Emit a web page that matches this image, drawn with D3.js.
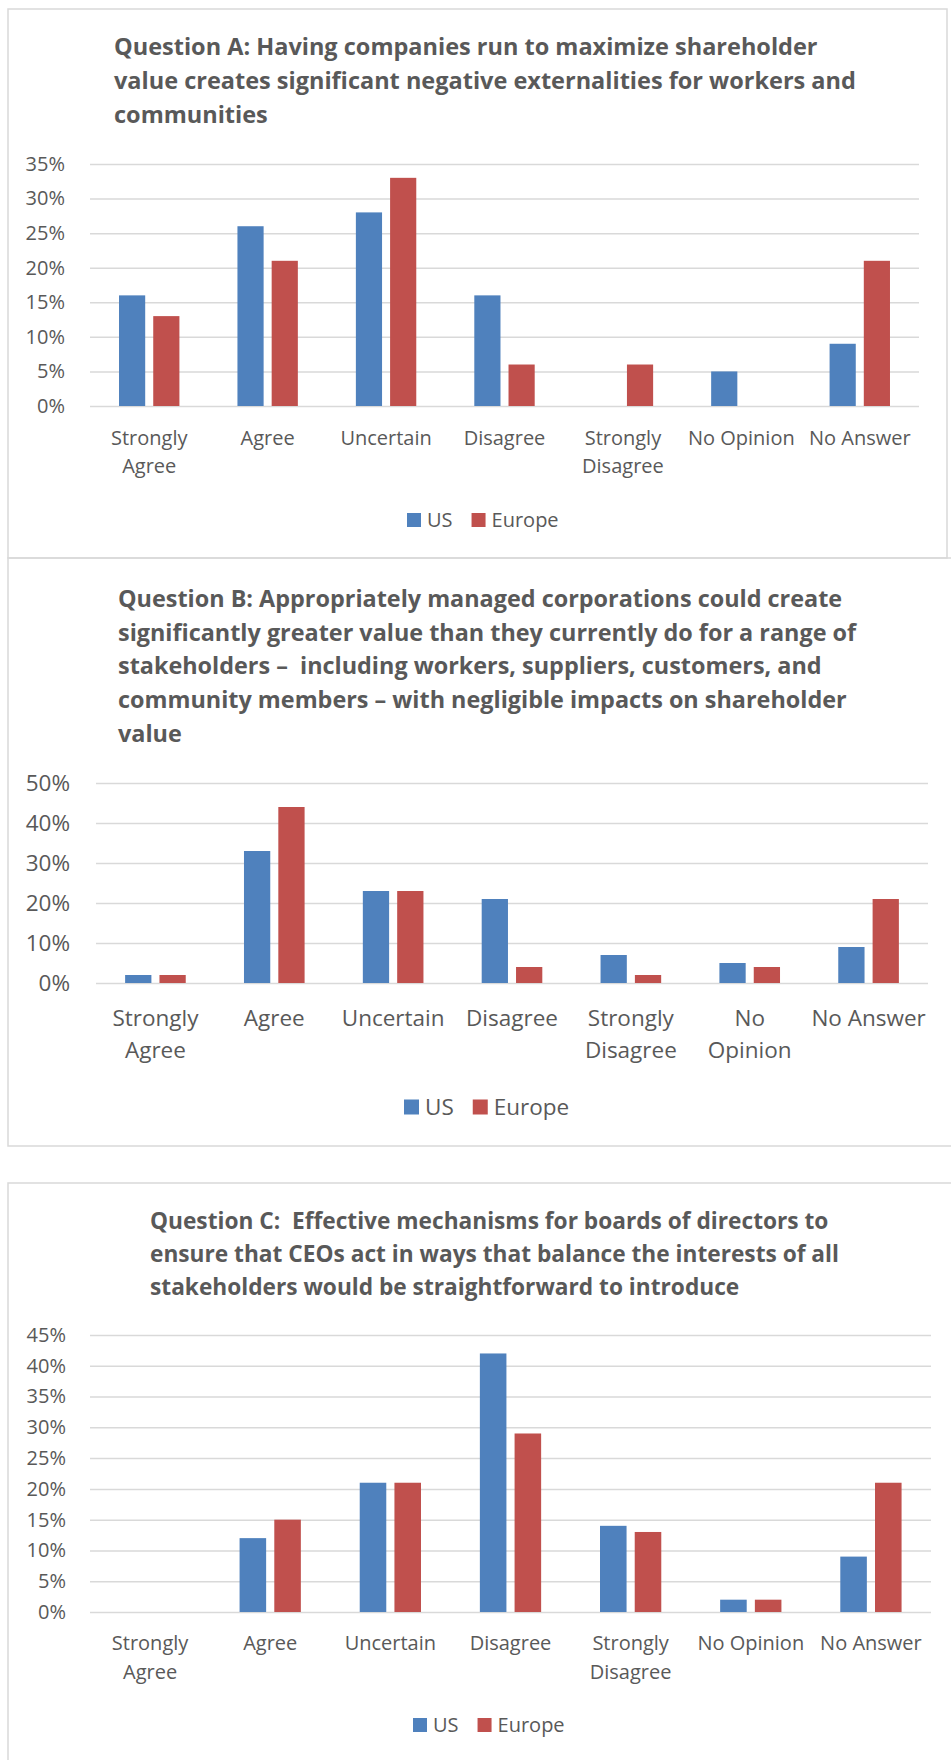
<!DOCTYPE html>
<html>
<head>
<meta charset="utf-8">
<script src="https://cdn.jsdelivr.net/npm/d3@7"></script>
<style>
  body { margin: 0; background: #fff; }
  svg { display: block; font-family: "Open Sans", sans-serif; }
  text { white-space: pre; }
</style>
</head>
<body>
<svg id="chart" width="951" height="1760"></svg>
<script>
// data
const categories = ['Strongly Agree', 'Agree', 'Uncertain', 'Disagree', 'Strongly Disagree', 'No Opinion', 'No Answer']
const seriesNames = ['US', 'Europe']
const colors = ['#4F81BD', '#C0504D']

const titleA = ['Question A: Having companies run to maximize shareholder',
  'value creates significant negative externalities for workers and',
  'communities']
const usA = [16, 26, 28, 16, 0, 5, 9]
const europeA = [13, 21, 33, 6, 6, 0, 21]
const ticksA = [0, 5, 10, 15, 20, 25, 30, 35]
const labelsA = ['Strongly\nAgree', 'Agree', 'Uncertain', 'Disagree', 'Strongly\nDisagree', 'No Opinion', 'No Answer']

const titleB = ['Question B: Appropriately managed corporations could create',
  'significantly greater value than they currently do for a range of',
  'stakeholders \u2013  including workers, suppliers, customers, and',
  'community members \u2013 with negligible impacts on shareholder',
  'value']
const usB = [2, 33, 23, 21, 7, 5, 9]
const europeB = [2, 44, 23, 4, 2, 4, 21]
const ticksB = [0, 10, 20, 30, 40, 50]
const labelsB = ['Strongly\nAgree', 'Agree', 'Uncertain', 'Disagree', 'Strongly\nDisagree', 'No\nOpinion', 'No Answer']

const titleC = ['Question C:  Effective mechanisms for boards of directors to',
  'ensure that CEOs act in ways that balance the interests of all',
  'stakeholders would be straightforward to introduce']
const usC = [0, 12, 21, 42, 14, 2, 9]
const europeC = [0, 15, 21, 29, 13, 2, 21]
const ticksC = [0, 5, 10, 15, 20, 25, 30, 35, 40, 45]
const labelsC = ['Strongly\nAgree', 'Agree', 'Uncertain', 'Disagree', 'Strongly\nDisagree', 'No Opinion', 'No Answer']

const textColor = '#595959'
const gridColor = '#D9D9D9'

const svg = d3.select('#chart')

function drawChart(c) {
  const g = svg.append('g')

  // frame
  g.append('rect')
    .attr('x', c.box[0]).attr('y', c.box[1])
    .attr('width', c.box[2]).attr('height', c.box[3])
    .attr('fill', 'none')
    .attr('stroke', gridColor)
    .attr('stroke-width', 1.5)

  // title
  g.append('text')
    .attr('fill', textColor)
    .attr('font-weight', 'bold')
    .attr('font-size', c.titleSize)
    .selectAll('tspan')
    .data(c.title)
    .join('tspan')
    .attr('x', c.titleX)
    .attr('y', (d, i) => c.titleY + i * c.titleStep)
    .text(d => d)

  const x0 = d3.scaleBand()
    .domain(categories)
    .range([c.left, c.right])
    .paddingInner(0.49)
    .paddingOuter(0.245)

  const x1 = d3.scaleBand()
    .domain(seriesNames)
    .range([0, x0.bandwidth()])
    .paddingInner(0.235)

  const y = d3.scaleLinear()
    .domain([0, d3.max(c.ticks)])
    .range([c.bottom, c.top])

  // y axis + gridlines
  const yAxis = g.append('g')
    .attr('transform', `translate(${c.left},0)`)
    .call(d3.axisLeft(y)
      .tickValues(c.ticks)
      .tickFormat(d => d + '%')
      .tickSizeInner(-(c.right - c.left))
      .tickSizeOuter(0)
      .tickPadding(c.tickPad))
  yAxis.select('.domain').remove()
  yAxis.selectAll('line').attr('stroke', gridColor).attr('stroke-width', 1.5)
  yAxis.selectAll('text')
    .attr('fill', textColor)
    .attr('font-size', c.axisSize)
    .attr('font-family', '"Open Sans", sans-serif')

  // bars
  const rows = categories.map((cat, i) => ({ cat, vals: [c.us[i], c.europe[i]] }))
  g.append('g')
    .selectAll('g')
    .data(rows)
    .join('g')
    .attr('transform', d => `translate(${x0(d.cat)},0)`)
    .selectAll('rect')
    .data(d => d.vals.map((v, k) => ({ k, v })))
    .join('rect')
    .filter(d => d.v > 0)
    .attr('x', d => x1(seriesNames[d.k]))
    .attr('y', d => y(d.v))
    .attr('width', x1.bandwidth())
    .attr('height', d => y(0) - y(d.v))
    .attr('fill', d => colors[d.k])

  // category labels
  g.append('g')
    .selectAll('text')
    .data(categories)
    .join('text')
    .attr('text-anchor', 'middle')
    .attr('fill', textColor)
    .attr('font-size', c.axisSize)
    .each(function (d, i) {
      const cx = x0(d) + x0.bandwidth() / 2
      d3.select(this).selectAll('tspan')
        .data(c.labels[i].split('\n'))
        .join('tspan')
        .attr('x', cx)
        .attr('y', (t, j) => c.bottom + c.labelOff + j * c.labelStep)
        .text(t => t)
    })

  // legend
  const leg = g.append('g').attr('transform', `translate(${c.legendX},${c.legendY})`)
  let lx = 0
  seriesNames.forEach((name, k) => {
    leg.append('rect')
      .attr('x', lx).attr('y', -c.sq / 2)
      .attr('width', c.sq).attr('height', c.sq)
      .attr('fill', colors[k])
    const t = leg.append('text')
      .attr('x', lx + c.sq + 6)
      .attr('dy', '0.35em')
      .attr('fill', textColor)
      .attr('font-size', c.axisSize)
      .text(name)
    lx += c.sq + 6 + t.node().getComputedTextLength() + 19
  })
}

drawChart({
  box: [8, 9, 939, 549],
  title: titleA, titleX: 114, titleY: 55, titleStep: 34, titleSize: 23.5,
  us: usA, europe: europeA, ticks: ticksA, labels: labelsA,
  left: 90, right: 919, top: 164, bottom: 406,
  tickPad: 25, axisSize: 20, labelOff: 39, labelStep: 28,
  legendX: 407, legendY: 520, sq: 14
})

drawChart({
  box: [8, 558, 960, 588],
  title: titleB, titleX: 118, titleY: 607, titleStep: 33.7, titleSize: 23.4,
  us: usB, europe: europeB, ticks: ticksB, labels: labelsB,
  left: 96, right: 928, top: 783, bottom: 983,
  tickPad: 26, axisSize: 22.5, labelOff: 43, labelStep: 32,
  legendX: 404, legendY: 1107, sq: 15
})

drawChart({
  box: [8, 1183, 960, 600],
  title: titleC, titleX: 150, titleY: 1229, titleStep: 33, titleSize: 22.7,
  us: usC, europe: europeC, ticks: ticksC, labels: labelsC,
  left: 90, right: 931, top: 1335, bottom: 1612,
  tickPad: 24, axisSize: 20, labelOff: 38, labelStep: 29,
  legendX: 413, legendY: 1725, sq: 14
})
</script>
</body>
</html>
